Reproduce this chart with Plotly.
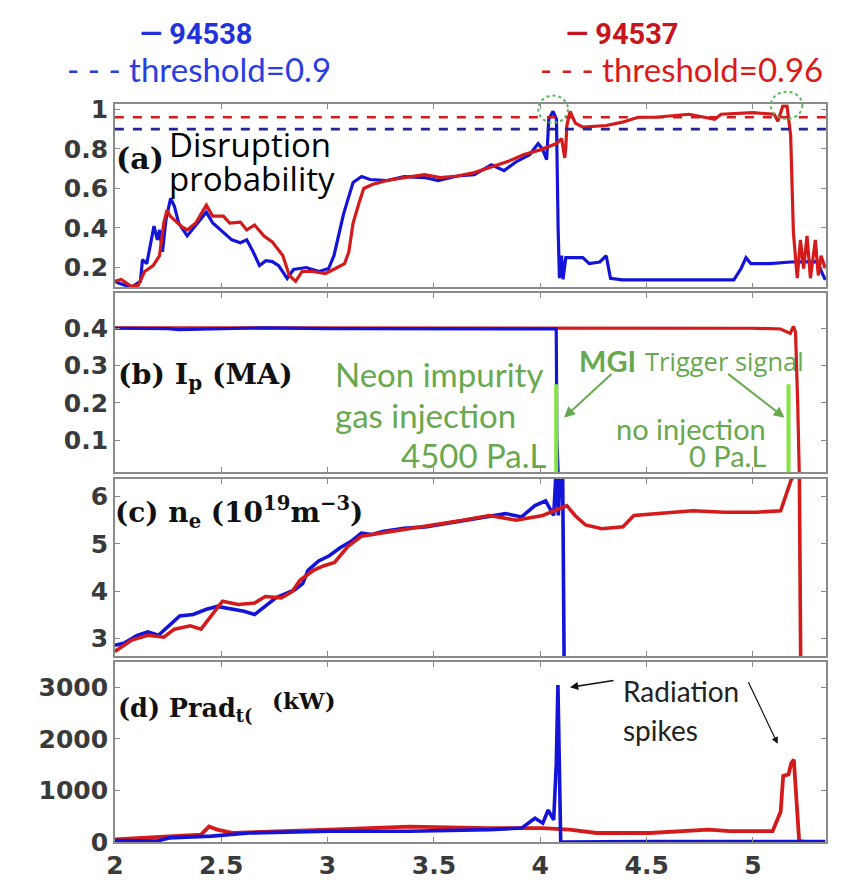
import plotly.graph_objects as go

W, H = 842, 894

# ---------------- data ----------------
# (a) disruption probability
A_BLUE_T = [2.0, 2.02, 2.077, 2.12, 2.13, 2.15, 2.184, 2.2, 2.21, 2.224,
            2.24, 2.262, 2.28, 2.3, 2.34, 2.37, 2.417, 2.43, 2.46, 2.51,
            2.55, 2.59, 2.62, 2.65, 2.68, 2.71, 2.74, 2.77, 2.81, 2.84,
            2.90, 2.96, 3.005, 3.03, 3.05, 3.075, 3.10, 3.12, 3.16, 3.2,
            3.28, 3.36, 3.456, 3.52, 3.61, 3.69, 3.77, 3.83, 3.89, 3.95,
            3.99, 4.01, 4.03, 4.04, 4.06, 4.076, 4.084, 4.09, 4.1, 4.107,
            4.12, 4.2, 4.23, 4.28, 4.31, 4.33, 4.386, 4.54, 4.70, 4.91,
            4.944, 4.967, 4.99, 5.08, 5.177, 5.25, 5.3, 5.34]
A_BLUE_V = [0.13, 0.12, 0.10, 0.13, 0.24, 0.22, 0.41, 0.34, 0.39, 0.28,
            0.44, 0.55, 0.51, 0.425, 0.36, 0.40, 0.46, 0.48, 0.425, 0.375,
            0.34, 0.325, 0.34, 0.28, 0.21, 0.235, 0.23, 0.21, 0.145, 0.19,
            0.20, 0.18, 0.195, 0.26, 0.36, 0.47, 0.56, 0.63, 0.66, 0.645,
            0.64, 0.66, 0.655, 0.64, 0.663, 0.67, 0.72, 0.69, 0.737, 0.77,
            0.827, 0.80, 0.745, 0.95, 0.99, 0.95, 0.39, 0.146, 0.26, 0.14,
            0.25, 0.25, 0.22, 0.228, 0.26, 0.146, 0.138, 0.138, 0.138, 0.138,
            0.195, 0.25, 0.22, 0.22, 0.228, 0.228, 0.23, 0.138]
A_RED_T = [2.0, 2.03, 2.077, 2.11, 2.14, 2.18, 2.21, 2.23, 2.245, 2.26,
           2.31, 2.34, 2.38, 2.43, 2.46, 2.51, 2.54, 2.59, 2.62, 2.657,
           2.70, 2.74, 2.79, 2.82, 2.85, 2.88, 2.93, 2.99, 3.037, 3.08,
           3.10, 3.12, 3.146, 3.17, 3.21, 3.28, 3.36, 3.456, 3.53, 3.61,
           3.69, 3.77, 3.85, 3.92, 4.0, 4.076, 4.10, 4.115, 4.12, 4.125,
           4.14, 4.165, 4.2, 4.31, 4.386, 4.46, 4.54, 4.70, 4.82, 4.85,
           5.0, 5.1, 5.117, 5.14, 5.16, 5.177, 5.19, 5.208, 5.223, 5.238,
           5.254, 5.27, 5.293, 5.307, 5.32, 5.34]
A_RED_V = [0.13, 0.14, 0.105, 0.11, 0.18, 0.21, 0.26, 0.425, 0.49, 0.46,
           0.41, 0.39, 0.425, 0.515, 0.46, 0.46, 0.425, 0.43, 0.39, 0.415,
           0.36, 0.33, 0.26, 0.16, 0.13, 0.18, 0.18, 0.17, 0.195, 0.22,
           0.28, 0.425, 0.52, 0.60, 0.62, 0.64, 0.655, 0.67, 0.655, 0.663,
           0.68, 0.71, 0.737, 0.77, 0.795, 0.827, 0.852, 0.754, 0.81, 0.918,
           0.99, 0.93, 0.91, 0.918, 0.935, 0.96, 0.96, 0.975, 0.95, 0.975,
           0.983, 0.975, 0.94, 1.016, 1.016, 0.868, 0.376, 0.146, 0.34, 0.195,
           0.36, 0.146, 0.34, 0.16, 0.26, 0.195]
THRESHOLDS = [0.9, 0.96]          # blue (94538), red (94537)

# (b) plasma current Ip (MA)
B_BLUE_T = [2.0, 2.25, 2.3, 2.45, 2.7, 3.0, 3.5, 4.0, 4.075, 4.078, 4.085]
B_BLUE_V = [0.400, 0.399, 0.396, 0.398, 0.401, 0.399, 0.399, 0.399, 0.398, 0.1, 0.0]
B_RED_T = [2.0, 3.0, 4.07, 4.3, 4.6, 5.0, 5.13, 5.16, 5.175, 5.19, 5.2, 5.21, 5.218]
B_RED_V = [0.401, 0.401, 0.399, 0.400, 0.399, 0.400, 0.398, 0.39, 0.386, 0.405, 0.39, 0.2, 0.0]
TRIGGER_T = [4.075, 5.167]
TRIGGER_TOP = 0.25

# (c) density ne (1e19 m^-3)
C_BLUE_T = [2.0, 2.042, 2.105, 2.155, 2.205, 2.255, 2.305, 2.368, 2.431, 2.481,
            2.557, 2.607, 2.657, 2.707, 2.757, 2.808, 2.845, 2.883, 2.908, 2.958,
            3.008, 3.059, 3.109, 3.159, 3.209, 3.259, 3.36, 3.46, 3.56, 3.661,
            3.761, 3.837, 3.912, 3.975, 4.025, 4.063, 4.075, 4.085, 4.095, 4.105,
            4.113, 4.12]
C_BLUE_V = [2.86, 2.9, 3.07, 3.14, 3.07, 3.27, 3.48, 3.51, 3.62, 3.68,
            3.62, 3.58, 3.51, 3.68, 3.86, 3.96, 4.03, 4.16, 4.44, 4.64,
            4.75, 4.92, 5.05, 5.23, 5.2, 5.26, 5.33, 5.36, 5.43, 5.5,
            5.57, 5.64, 5.57, 5.81, 5.91, 5.6, 6.6, 5.6, 6.6, 6.6,
            2.0, 0.0]
C_RED_T = [2.0, 2.08, 2.155, 2.23, 2.28, 2.355, 2.405, 2.455, 2.506, 2.58,
           2.657, 2.707, 2.782, 2.833, 2.87, 2.933, 2.983, 3.033, 3.096, 3.159,
           3.259, 3.385, 3.51, 3.636, 3.761, 3.887, 4.012, 4.088, 4.125, 4.163,
           4.213, 4.289, 4.389, 4.44, 4.565, 4.716, 4.866, 5.017, 5.13, 5.155,
           5.18, 5.205, 5.218, 5.225, 5.23]
C_RED_V = [2.73, 2.97, 3.07, 3.03, 3.2, 3.27, 3.2, 3.48, 3.79, 3.72,
           3.75, 3.89, 3.86, 3.99, 4.23, 4.44, 4.54, 4.61, 4.95, 5.16,
           5.23, 5.33, 5.4, 5.5, 5.6, 5.5, 5.6, 5.74, 5.81, 5.6,
           5.4, 5.32, 5.36, 5.6, 5.64, 5.7, 5.67, 5.67, 5.7, 6.01,
           6.36, 6.5, 6.5, 2.0, 0.0]

# (d) radiated power (kW)
D_BLUE_T = [2.0, 2.2, 2.255, 2.455, 2.632, 3.008, 3.385, 3.761, 3.912, 3.975,
            4.012, 4.037, 4.063, 4.075, 4.083, 4.09, 4.096, 4.5, 5.0, 5.34]
D_BLUE_V = [30, 20, 80, 115, 175, 210, 210, 240, 270, 460,
            365, 620, 430, 1500, 3045, 1500, 0, 10, 10, 10]
D_RED_T = [2.0, 2.255, 2.405, 2.443, 2.481, 2.557, 2.757, 3.008, 3.385, 3.761,
           4.012, 4.138, 4.264, 4.515, 4.791, 4.891, 5.092, 5.13, 5.142, 5.167,
           5.18, 5.192, 5.205, 5.217, 5.25]
D_RED_V = [50, 115, 145, 300, 240, 175, 210, 240, 300, 270,
           270, 240, 175, 175, 240, 210, 210, 585, 1280, 1310,
           1530, 1595, 775, 20, 0]

X_TICKS = [2, 2.5, 3, 3.5, 4, 4.5, 5]
X_TICKTEXT = ['2', '2.5', '3', '3.5', '4', '4.5', '5']
Y_TICKS = [[0.2, 0.4, 0.6, 0.8, 1], [0.1, 0.2, 0.3, 0.4], [3, 4, 5, 6], [0, 1000, 2000, 3000]]
Y_TICKTEXT = [['0.2', '0.4', '0.6', '0.8', '1'], ['0.1', '0.2', '0.3', '0.4'],
              ['3', '4', '5', '6'], ['0', '1000', '2000', '3000']]
Y_RANGES = [[0.1, 1.025], [0.014, 0.494], [2.63, 6.37], [0, 3490]]
X_RANGE = [2, 5.344]

# ---------------- styling ----------------
BLUE = '#1414d8'
RED = '#d41a1a'
NAVY = '#23239a'
GREEN_TXT = '#68a84e'
GREEN_BAR = '#84e43c'
FRAME = '#8a8a8a'
TICKFONT = dict(family='DejaVu Sans', size=25, color='#3a3a3a', weight='bold')
SERIF = 'DejaVu Serif'
SANS = 'Lato'


def px(x, y):
    return x / W, 1 - y / H


panel_px = [(98, 286), (292, 476), (483, 665), (671, 856)]
x_dom = [107 / W, 826 / W]

fig = go.Figure()

suffix = ['', '2', '3', '4']

def add(t, v, color, k, width=3.2):
    fig.add_trace(go.Scatter(x=t, y=v, mode='lines', line=dict(color=color, width=width),
                             xaxis='x' + suffix[k], yaxis='y' + suffix[k],
                             showlegend=False, hoverinfo='skip'))

add(A_BLUE_T, A_BLUE_V, BLUE, 0)
add(A_RED_T, A_RED_V, RED, 0)
add(B_RED_T, B_RED_V, RED, 1)
add(B_BLUE_T, B_BLUE_V, BLUE, 1)
add(C_BLUE_T, C_BLUE_V, BLUE, 2, 3.6)
add(C_RED_T, C_RED_V, RED, 2, 3.6)
add(D_RED_T, D_RED_V, RED, 3, 3.8)
add(D_BLUE_T, D_BLUE_V, BLUE, 3, 3.6)

layout = dict(width=W, height=H, margin=dict(l=0, r=0, t=0, b=0),
              paper_bgcolor='white', plot_bgcolor='white', showlegend=False)
for k in range(4):
    top, bot = panel_px[k]
    layout['xaxis' + suffix[k]] = dict(
        domain=x_dom, anchor='y' + suffix[k], range=X_RANGE,
        tickvals=X_TICKS, ticktext=X_TICKTEXT, showticklabels=(k == 3),
        ticks='inside', ticklen=5, tickcolor=FRAME, showline=True, linecolor=FRAME,
        linewidth=1.5, mirror='ticks', showgrid=False, zeroline=False,
        tickfont=TICKFONT, matches=None if k == 0 else 'x')
    layout['yaxis' + suffix[k]] = dict(
        domain=[1 - bot / H, 1 - top / H], anchor='x' + suffix[k], range=Y_RANGES[k],
        tickvals=Y_TICKS[k], ticktext=Y_TICKTEXT[k], ticks='inside', ticklen=5,
        tickcolor=FRAME, showline=True, linecolor=FRAME, linewidth=1.5, mirror='ticks',
        showgrid=False, zeroline=False, tickfont=TICKFONT)
fig.update_layout(**layout)

# thresholds
for thr, col in zip(THRESHOLDS, [NAVY, RED]):
    fig.add_shape(type='line', xref='x domain', yref='y', x0=0, x1=1, y0=thr, y1=thr,
                  line=dict(color=col, width=2.6, dash='dash'))

# MGI trigger bars
for tt in TRIGGER_T:
    fig.add_shape(type='line', xref='x2', yref='y2', x0=tt, x1=tt, y0=0, y1=TRIGGER_TOP,
                  line=dict(color=GREEN_BAR, width=4))

# dotted circles around alarms (paper coords so they are not clipped)
for (l, t, r, b) in [(535, 89, 565, 117), (770, 85, 802, 113)]:
    x0, y1 = px(l, t)
    x1, y0 = px(r, b)
    fig.add_shape(type='circle', xref='paper', yref='paper', x0=x0, x1=x1, y0=y0, y1=y1,
                  line=dict(color='#5cb85c', width=2, dash='dot'))

ann = []

def text(s, x, y, size, color, family=SANS, xanchor='left'):
    xp, yp = px(x, y)
    ann.append(dict(text=s, x=xp, y=yp, xref='paper', yref='paper', showarrow=False,
                    xanchor=xanchor, yanchor='middle', font=dict(family=family, size=size, color=color)))

def arrow(hx, hy, tx, ty, color, width=2):
    xp, yp = px(hx, hy)
    ann.append(dict(text='', x=xp, y=yp, xref='paper', yref='paper', showarrow=True,
                    ax=tx - hx, ay=ty - hy, arrowhead=2, arrowsize=1.1, arrowwidth=width,
                    arrowcolor=color))

# header legend
text('<b>— 94538</b>', 130, 26, 29, '#2233dd', 'Liberation Sans Narrow, Roboto')
text('- - - threshold=0.9', 57, 62, 33, '#2a3de0')
text('<b>— 94537</b>', 561, 26, 29, '#c8141c', 'Liberation Sans Narrow, Roboto')
text('- - - threshold=0.96', 535, 62, 33, '#dd1a1a')

# panel labels
text('<b>(a)</b>', 106, 154, 30, '#111', SERIF)
text('Disruption', 160, 139, 33, '#000', 'Open Sans')
text('probability', 160, 174, 33, '#000', 'Open Sans')
text('<b>(b) I<sub>p</sub> (MA)</b>', 108, 377, 28.5, '#111', SERIF)
text('<b>(c) n<sub>e</sub> (10<sup>19</sup>m<sup>−3</sup>)</b>', 105, 517, 28, '#111', SERIF)
text('<b>(d) Prad<sub>t(</sub></b>', 108, 720, 25.5, '#111', SERIF)
text('<b>(kW)</b>', 264, 711, 23, '#111', SERIF)

# green annotations in (b)
text('Neon impurity', 328, 375, 33, GREEN_TXT)
text('gas injection', 328, 417, 33, GREEN_TXT)
text('4500 Pa.L', 545, 458, 33, GREEN_TXT, xanchor='right')
text('<b>MGI</b>', 574, 361, 29, GREEN_TXT)
text('Trigger signal', 641, 362, 25.5, GREEN_TXT, 'Open Sans')
text('no injection', 767, 431, 29, GREEN_TXT, xanchor='right')
text('0 Pa.L', 767, 459, 29, GREEN_TXT, xanchor='right')
arrow(561, 420, 610, 375, GREEN_TXT)
arrow(784, 420, 726, 375, GREEN_TXT)

# radiation spikes annotation in (d)
text('Radiation', 619, 701, 28, '#222')
text('spikes', 619, 741, 28, '#222')
arrow(567, 697, 612, 690, '#111', 1.5)
arrow(777, 755, 747, 692, '#111', 1.2)

fig.update_layout(annotations=ann)
fig.write_html('out.html')
